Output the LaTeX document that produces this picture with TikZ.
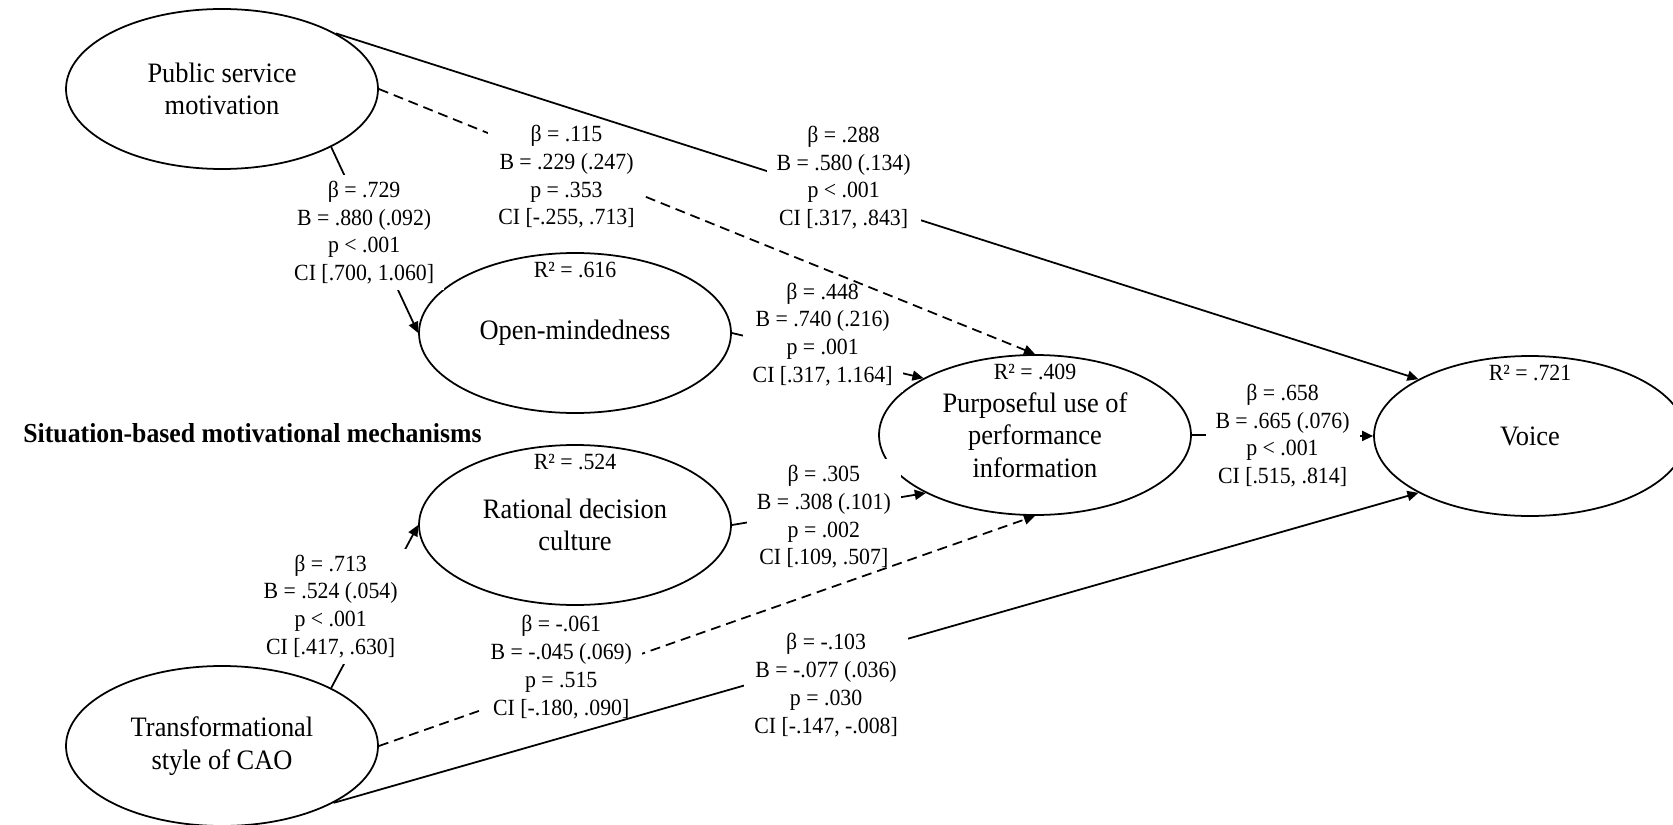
\documentclass[tikz,border=0pt]{standalone}
\usepackage{fontspec}
\setmainfont{Liberation Serif}[FakeStretch=0.94]
\usetikzlibrary{shapes.geometric,arrows.meta,positioning}
\tikzstyle{latentVar}=[shape = ellipse, draw, line width = 0.5pt, minimum width = 31.2mm, minimum height = 16mm, inner sep = 0pt, align = center, font = \fontsize{8}{9.2}\selectfont]
\tikzstyle{rSquare}=[inner sep = 0pt, font = \fontsize{6.6}{7.9}\selectfont]
\tikzstyle{pathLabel}=[fill = white, align = center, inner xsep = 1mm, inner ysep = 0.6mm, font = \fontsize{6.6}{7.9}\selectfont]
\tikzstyle{directPath}=[line width = 0.5pt, -{Triangle[length = 1.1mm, width = 1mm]}]
\tikzstyle{nsPath}=[directPath, dash pattern = on 1mm off 0.6mm]

\begin{document}
\begin{tikzpicture}[x = 0.1mm, y = -0.1mm]
\useasboundingbox (0,0) rectangle (1673,825);
% latent variables
\node[latentVar] (psm) at (222,89) {Public service\\motivation};
\node[latentVar] (om) at (575,333) {Open-mindedness};
\node[latentVar] (rdc) at (575,525) {Rational decision\\culture};
\node[latentVar] (tsc) at (222,746) {Transformational\\style of CAO};
\node[latentVar] (pupi) at (1035,435) {Purposeful use of\\performance\\information};
\node[latentVar] (voice) at (1530,436) {Voice};
\node[rSquare, below = 0.9mm of om.north] (omR) {R² = .616};
\node[rSquare, below = 0.9mm of rdc.north] (rdcR) {R² = .524};
\node[rSquare, below = 0.9mm of pupi.north] (pupiR) {R² = .409};
\node[rSquare, below = 0.9mm of voice.north] (voiceR) {R² = .721};
\node[anchor = west, font = \fontsize{7.8}{9.4}\selectfont\bfseries] (mech) at (11,433) {Situation-based motivational mechanisms};
% paths over the mediators
\draw[directPath] (psm.-28) -- node[pathLabel, pos = 0.46, xshift = -0.7mm] {β = .729\\B = .880 (.092)\\p < .001\\CI [.700, 1.060]} (om.west);
\draw[directPath] (tsc.28) -- node[pathLabel, pos = 0.5, xshift = -4.4mm] {β = .713\\B = .524 (.054)\\p < .001\\CI [.417, .630]} (rdc.west);
\draw[directPath] (om.east) -- node[pathLabel, pos = 0.474, yshift = 2mm] {β = .448\\B = .740 (.216)\\p = .001\\CI [.317, 1.164]} (pupi.153);
\draw[directPath] (rdc.east) -- node[pathLabel, pos = 0.474, yshift = -0.7mm] {β = .305\\B = .308 (.101)\\p = .002\\CI [.109, .507]} (pupi.208);
\draw[directPath] (pupi.east) -- node[pathLabel] {β = .658\\B = .665 (.076)\\p < .001\\CI [.515, .814]} (voice.west);
% non-significant paths
\draw[nsPath] (psm.east) -- node[pathLabel, pos = 0.286, yshift = -1.2mm] {β = .115\\B = .229 (.247)\\p = .353\\CI [-.255, .713]} (pupi.north);
\draw[nsPath] (tsc.east) -- node[pathLabel, pos = 0.278, yshift = 1.5mm] {β = -.061\\B = -.045 (.069)\\p = .515\\CI [-.180, .090]} (pupi.south);
% direct paths to voice
\draw[directPath] (psm.26) -- node[pathLabel, pos = 0.469, yshift = 1.8mm] {β = .288\\B = .580 (.134)\\p < .001\\CI [.317, .843]} (voice.153);
\draw[directPath] (tsc.-27) -- node[pathLabel, pos = 0.454, yshift = -2.3mm] {β = -.103\\B = -.077 (.036)\\p = .030\\CI [-.147, -.008]} (voice.207);
\end{tikzpicture}
\end{document}
